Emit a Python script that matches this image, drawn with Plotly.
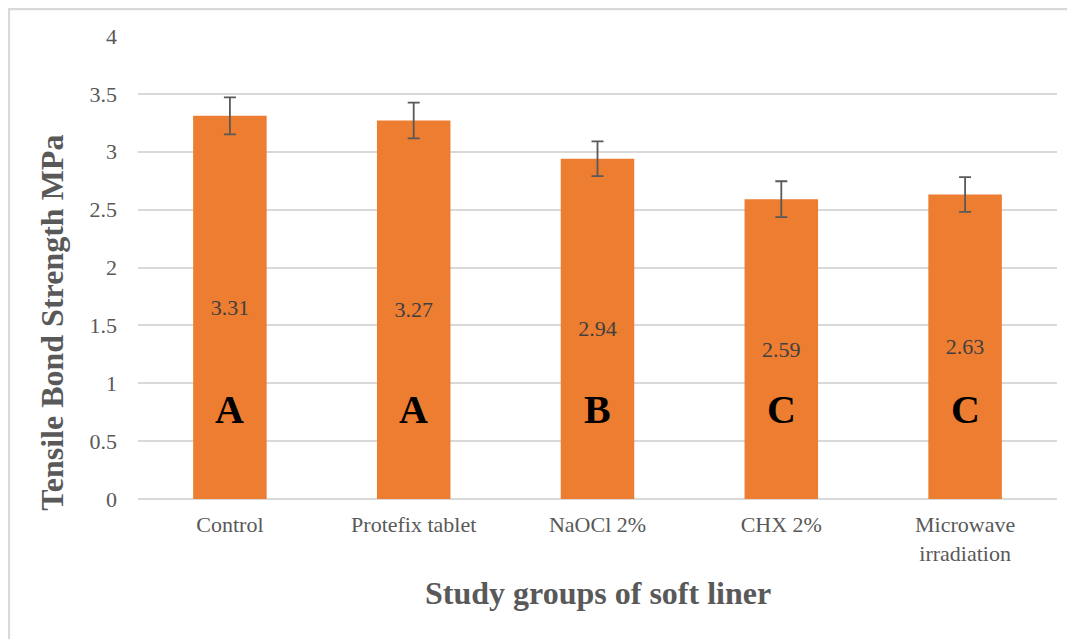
import plotly.graph_objects as go

categories = ["Control", "Protefix tablet", "NaOCl 2%", "CHX 2%", "Microwave<br>irradiation"]
means = [3.31, 3.27, 2.94, 2.59, 2.63]
sd = [0.16, 0.155, 0.15, 0.155, 0.15]
letters = ["A", "A", "B", "C", "C"]
y_ticks = [0, 0.5, 1, 1.5, 2, 2.5, 3, 3.5, 4]

SERIF = "Liberation Serif, Times New Roman, serif"

fig = go.Figure()
fig.add_trace(go.Bar(
    x=categories, y=means,
    marker=dict(color="#ED7D31", line=dict(width=0)),
    error_y=dict(type="data", array=sd, visible=True, color="#595959", thickness=1.8, width=6),
    text=[f"{v:.2f}" for v in means],
    textposition="inside", insidetextanchor="middle",
    textfont=dict(family=SERIF, size=22, color="#404040"),
    hoverinfo="skip",
))

for c, l in zip(categories, letters):
    fig.add_annotation(x=c, y=0.77, text=f"<b>{l}</b>", showarrow=False,
                       font=dict(family=SERIF, size=40, color="#000000"),
                       xanchor="center", yanchor="middle")

fig.add_annotation(xref="paper", yref="paper", x=-0.094, y=0.38,
                   text="<b>Tensile Bond Strength MPa</b>", textangle=-90, showarrow=False,
                   font=dict(family=SERIF, size=32, color="#595959"),
                   xanchor="center", yanchor="middle")
fig.add_annotation(xref="paper", yref="paper", x=0.5005, y=-0.203,
                   text="<b>Study groups of soft liner</b>", showarrow=False,
                   font=dict(family=SERIF, size=32, color="#595959"),
                   xanchor="center", yanchor="middle")

fig.add_shape(type="rect", xref="paper", yref="paper",
              x0=-0.1408, x1=1.05, y0=-0.4, y1=1.059,
              line=dict(color="#d9d9d9", width=3), fillcolor="rgba(0,0,0,0)", layer="below")

fig.update_layout(
    width=1075, height=639,
    margin=dict(l=129.5, r=25.5, t=28, b=148),
    plot_bgcolor="white", paper_bgcolor="white",
    bargap=0.6, showlegend=False,
    font=dict(family=SERIF, color="#595959"),
)
fig.update_yaxes(range=[0, 4], tickvals=y_ticks, ticktext=[f"{t:g}" for t in y_ticks],
                 showgrid=True, gridcolor="#d9d9d9", gridwidth=1.5,
                 zeroline=True, zerolinecolor="#d9d9d9", zerolinewidth=1.5,
                 showline=False, ticks="", ticklabelstandoff=20,
                 tickfont=dict(family=SERIF, size=22, color="#595959"), fixedrange=True)
fig.update_xaxes(showgrid=False, showline=False, ticks="", ticklabelstandoff=10,
                 tickfont=dict(family=SERIF, size=22, color="#595959"), fixedrange=True)

fig.write_html("out.html")
